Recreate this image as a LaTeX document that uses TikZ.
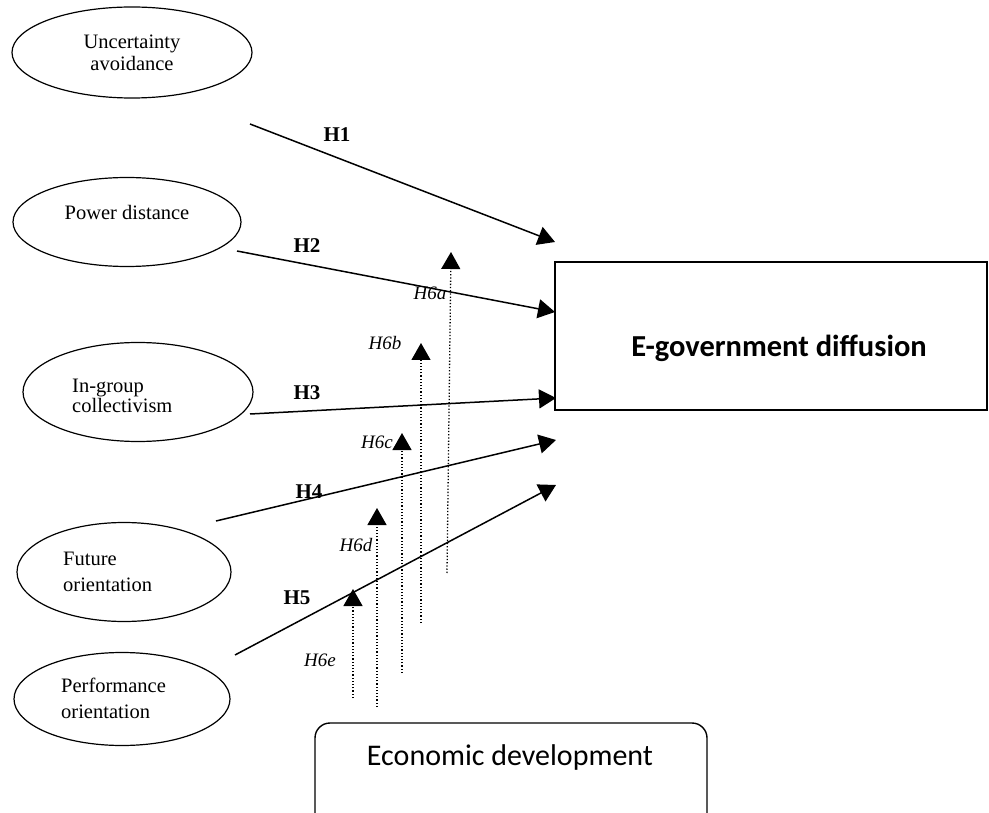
\documentclass[tikz,border=0pt]{standalone}
\usepackage{fontspec}
\newfontfamily\timesf{Liberation Serif}
\newfontfamily\calib{Carlito}
\usetikzlibrary{shapes.geometric,arrows.meta}
\begin{document}
\begin{tikzpicture}[x=1pt,y=-1pt,
  ell/.style={draw,ellipse,line width=1.2pt,inner sep=0pt},
  eltext/.style={inner sep=0pt,font=\timesf\fontsize{20.5}{24}\selectfont},
  hyp/.style={inner sep=0pt,font=\timesf\bfseries\fontsize{21}{25}\selectfont},
  modlab/.style={inner sep=0pt,font=\timesf\itshape\fontsize{19}{23}\selectfont},
  solidarr/.style={line width=1.5pt,-{Triangle[length=17pt,width=19pt]}},
  dotarr/.style={line width=1.3pt,dash pattern=on 1.3pt off 1.9pt,-{Triangle[length=17pt,width=19pt]}},
  boxst/.style={draw,line width=1.4pt,inner sep=0pt},
]
\useasboundingbox (0,0) rectangle (989,813);
\clip (0,0) rectangle (989,813);
\fill[white] (0,0) rectangle (989,813);

% ellipses
\node[ell,minimum width=240pt,minimum height=91pt] (ua) at (132,52.5) {};
\node[eltext,anchor=base] (uat1) at (132,49) {Uncertainty};
\node[eltext,anchor=base] (uat2) at (132,71) {avoidance};

\node[ell,minimum width=228pt,minimum height=89pt] (pd) at (127,222) {};
\node[eltext,anchor=base] (pdt) at (127,220) {Power distance};

\node[ell,minimum width=230pt,minimum height=99pt] (ig) at (138,392) {};
\node[eltext,anchor=base west] (igt1) at (72,392) {In-group};
\node[eltext,anchor=base west] (igt2) at (72,413) {collectivism};

\node[ell,minimum width=214pt,minimum height=99pt] (fo) at (124,572) {};
\node[eltext,anchor=base west] (fot1) at (63,565) {Future};
\node[eltext,anchor=base west] (fot2) at (63,591) {orientation};

\node[ell,minimum width=216pt,minimum height=93pt] (po) at (122,699) {};
\node[eltext,anchor=base west] (pot1) at (61,692) {Performance};
\node[eltext,anchor=base west] (pot2) at (61,718) {orientation};

% boxes
\node[boxst,minimum width=432pt,minimum height=148pt] (eg) at (771,336) {};
\node[inner sep=0pt,anchor=base,font=\calib\bfseries\fontsize{30.5}{36}\selectfont] (egt) at (779,357) {E-government diffusion};

\node[boxst,rounded corners=15pt,minimum width=392pt,minimum height=127pt] (ed) at (511,786.5) {};
\node[inner sep=0pt,anchor=base,font=\calib\fontsize{30}{36}\selectfont] (edt) at (510,765) {Economic development};

% solid arrows
\coordinate (s1) at (250,124); \coordinate (e1) at (555,242);
\coordinate (s2) at (237,251); \coordinate (e2) at (555,312);
\coordinate (s3) at (250,414); \coordinate (e3) at (556,398);
\coordinate (s4) at (216,521); \coordinate (e4) at (556,440);
\coordinate (s5) at (235,655); \coordinate (e5) at (556,485);
\draw[solidarr] (s1) -- (e1);
\draw[solidarr] (s2) -- (e2);
\draw[solidarr] (s3) -- (e3);
\draw[solidarr] (s4) -- (e4);
\draw[solidarr] (s5) -- (e5);

\node[hyp] (h1) at (337,135) {H1};
\node[hyp] (h2) at (307,246) {H2};
\node[hyp] (h3) at (307,393) {H3};
\node[hyp] (h4) at (309,492) {H4};
\node[hyp] (h5) at (297,598) {H5};

% dotted moderating arrows
\coordinate (da0) at (447,573); \coordinate (da1) at (451,252);
\coordinate (db0) at (421,623); \coordinate (db1) at (421,343);
\coordinate (dc0) at (402,673); \coordinate (dc1) at (402,433);
\coordinate (dd0) at (377,707); \coordinate (dd1) at (377,508);
\coordinate (de0) at (353,698); \coordinate (de1) at (353,589);
\draw[dotarr] (da0) -- (da1);
\draw[dotarr] (db0) -- (db1);
\draw[dotarr] (dc0) -- (dc1);
\draw[dotarr] (dd0) -- (dd1);
\draw[dotarr] (de0) -- (de1);

\node[modlab] (m6a) at (430,293) {H6a};
\node[modlab] (m6b) at (385,343) {H6b};
\node[modlab] (m6c) at (377,442) {H6c};
\node[modlab] (m6d) at (356,545) {H6d};
\node[modlab] (m6e) at (320,660) {H6e};
\end{tikzpicture}
\end{document}
